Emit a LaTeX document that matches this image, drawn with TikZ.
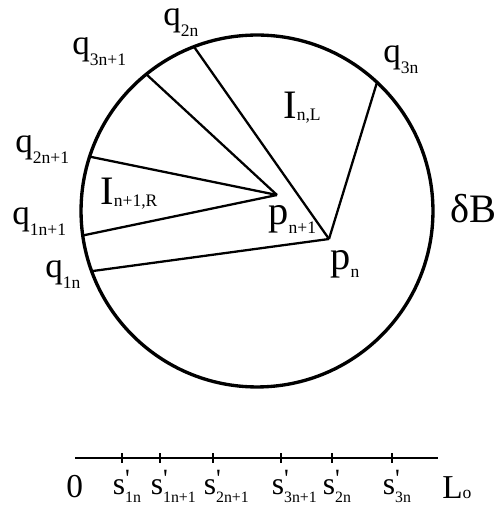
\documentclass[tikz,border=0pt]{standalone}
\usepackage{fontspec}
\setmainfont{Liberation Serif}
\usepackage{tikz}
\usetikzlibrary{calc}

% letter with a small lowered index
\newcommand{\lsub}[3][4pt]{#2\raisebox{-#1}{\fontsize{10}{10}\selectfont #3}}
% s with prime and index, index kept out of the width
\newcommand{\sprm}[1]{s\rlap{\raisebox{4.5pt}{\fontsize{15}{15}\selectfont\textquotesingle}}%
  \rlap{\raisebox{-4pt}{\fontsize{9}{9}\selectfont #1}}}

\begin{document}
\begin{tikzpicture}[x=0.02cm, y=0.02cm,
  bdry/.style={circle, draw, line width=1.9pt, minimum size=7.04cm,
             inner sep=0pt, outer sep=0pt},
  chord/.style={line width=1.3pt},
  qlab/.style={anchor=base west, inner sep=0pt, font=\fontsize{20}{20}\selectfont},
  big/.style={anchor=base west, inner sep=0pt, font=\fontsize{23}{23}\selectfont},
  axlab/.style={anchor=base west, inner sep=0pt, font=\fontsize{19}{19}\selectfont},
  slab/.style={anchor=base, inner sep=0pt, font=\fontsize{18}{18}\selectfont},
  axis/.style={line width=1.7pt},
]
\useasboundingbox (0,0) rectangle (498,507);

% ---- boundary and inner points ----
\node[bdry] (B) at (257,296) {};
\coordinate (pn)  at (329,268);
\coordinate (pn1) at (277,312);

% ---- chords ----
\draw[chord] (B.111.7) -- (pn);
\draw[chord] (B.47.1)  -- (pn);
\draw[chord] (B.200.3) -- (pn);
\draw[chord] (B.129.3) -- (pn1);
\draw[chord] (B.162.2) -- (pn1);
\draw[chord] (B.188.5) -- (pn1);

% ---- labels ----
\node[qlab] (lq2n)  at (163,481) {\lsub[6pt]{q}{2n}};
\node[qlab] (lq3n1) at (72,452)  {\lsub[6pt]{q}{3n+1}};
\node[qlab] (lq3n)  at (383,444) {\lsub[6pt]{q}{3n}};
\node[qlab] (lq2n1) at (15,354)  {\lsub[6pt]{q}{2n+1}};
\node[qlab] (lq1n1) at (12,282)  {\lsub[6pt]{q}{1n+1}};
\node[qlab] (lq1n)  at (45,229)  {\lsub[6pt]{q}{1n}};
\node[big] (lInL)  at (283,388) {\lsub[1pt]{I}{n,L}};
\node[big] (lIn1R) at (100,302) {\lsub[1pt]{I}{n+1,R}};
\node[big] (lpn1)  at (268,282) {\lsub[5pt]{p}{n+1}};
\node[big] (lpn)   at (330,237) {\lsub[4pt]{p}{n}};
\node[big] (ldB)   at (450,284) {δB};

% ---- segment [0, L_o] ----
\coordinate (ax0) at (75,49);
\coordinate (ax1) at (438,49);
\draw[axis] (ax0) -- (ax1);
\node[axlab] (l0) at (66,10) {0};
\node[axlab] (lL) at (442,9) {\lsub[0pt]{L}{o}};
\foreach \x/\ix/\nm in {122/1n/a, 160/1n+1/b, 213/2n+1/c, 281/3n+1/d, 332/2n/e, 392/3n/f} {
  \draw[chord] (\x,44) -- (\x,54);
  \node[slab] (s\nm) at (\x-3,12) {\sprm{\ix}};
}

\end{tikzpicture}
\end{document}
